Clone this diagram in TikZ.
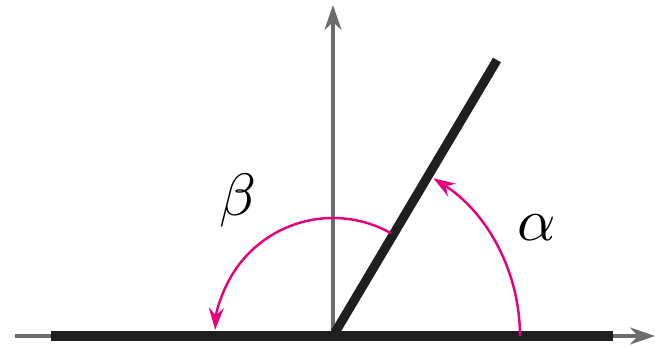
\documentclass[tikz,border=0pt]{standalone}
\usepackage{tikz}
\usetikzlibrary{arrows.meta}

\definecolor{angmag}{RGB}{230,0,126}

\begin{document}
\begin{tikzpicture}[
    x=0.02cm, y=0.02cm,
    axis/.style={
        draw=gray!85!black,
        line width=2.2pt,
        -{Stealth[length=5mm,width=3.4mm,inset=1.6mm]}
    },
    side/.style={
        draw=black!88,
        line width=5.2pt
    },
    angarc/.style={
        draw=angmag,
        line width=1.4pt,
        -{Stealth[length=4.4mm,width=3mm,inset=1.5mm]}
    },
    anglabel/.style={
        scale=3.4,
        transform shape
    }
]
\useasboundingbox (-333,-12) rectangle (334,336);

% Origin and ends of the axes
\coordinate (O) at (0,0);
\coordinate (xleft) at (-318,0);
\coordinate (xright) at (322,0);
\coordinate (ytop) at (0,331);

% Axes
\draw[axis] (xleft) -- (xright);
\draw[axis] (O) -- (ytop);

% Initial side and terminal side
\coordinate (sideleft) at (-282,0);
\coordinate (sideright) at (280,0);
\coordinate (term) at (164,276);
\draw[side] (sideleft) -- (sideright);
\draw[side] (O) -- (term);

% Angle alpha
\coordinate (alphastart) at (0:187);
\draw[angarc] (alphastart) arc[start angle=0, end angle=57.5, radius=187];
\node[anglabel] (alpha) at (204,108) {$\alpha$};

% Angle beta
\coordinate (betastart) at (60.5:118);
\draw[angarc] (betastart) arc[start angle=60.5, end angle=177, radius=118];
\node[anglabel] (beta) at (-95,135) {$\beta$};

\end{tikzpicture}
\end{document}
